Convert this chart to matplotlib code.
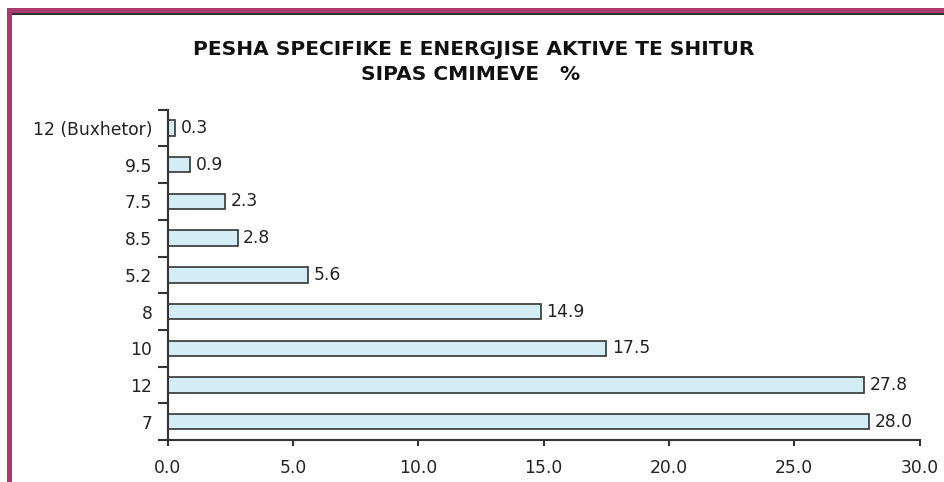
import matplotlib
matplotlib.use("Agg")
import matplotlib.pyplot as plt
from matplotlib.patches import Rectangle

categories = ["7", "12", "10", "8", "5.2", "8.5", "7.5", "9.5", "12 (Buxhetor)"]
values = [28.0, 27.8, 17.5, 14.9, 5.6, 2.8, 2.3, 0.9, 0.3]
xticks = [0, 5, 10, 15, 20, 25, 30]

W, H = 944, 482
fig = plt.figure(figsize=(W / 100, H / 100), dpi=100)
plt.rcParams['font.family'] = ['DejaVu Sans']

# frame around the chart (pink border with a dark inner line on top)
def px_rect(x0, y0, x1, y1, color):
    fig.patches.append(Rectangle((x0 / W, 1 - y1 / H), (x1 - x0) / W, (y1 - y0) / H,
                                 transform=fig.transFigure, color=color, lw=0, zorder=0))

border = "#a83a6e"
px_rect(7, 8, 12, H, border)
px_rect(7, 8, W, 12.7, border)
px_rect(12, 12.7, W, 15.3, "#333333")

ax = fig.add_axes([167.5 / W, 1 - 440 / H, (919.5 - 167.5) / W, (440 - 109.7) / H])
pos = range(len(categories))
bars = ax.barh(pos, values, height=0.42, color="#d3edf4", edgecolor="#333333", linewidth=1.2)

fs = 12.3
for y, v in zip(pos, values):
    ax.text(v + 0.22, y, f"{v:.1f}", va="center", ha="left", fontsize=fs, color="#222222")

ax.set_xlim(0, 30)
ax.set_ylim(-0.5, len(categories) - 0.5)
ax.set_xticks(xticks)
ax.set_xticklabels([f"{t:.1f}" for t in xticks])
ax.set_yticks(list(pos))
ax.set_yticklabels(categories)
ax.set_yticks([p - 0.5 for p in range(len(categories) + 1)], minor=True)

for s in ["top", "right"]:
    ax.spines[s].set_visible(False)
for s in ["left", "bottom"]:
    ax.spines[s].set_color("#333333")
    ax.spines[s].set_linewidth(1.5)

ax.tick_params(axis="y", which="major", length=0, pad=11, labelsize=fs, labelcolor="#222222")
ax.tick_params(axis="y", which="minor", length=7, width=1.5, color="#333333")
ax.tick_params(axis="x", length=4, width=1.5, color="#333333", pad=10, labelsize=fs, labelcolor="#222222")

fig.text(0.502, 1 - 55 / H, "PESHA SPECIFIKE E ENERGJISE AKTIVE TE SHITUR",
         ha="center", va="baseline", fontsize=14.5, fontweight="bold", color="#111111")
fig.text(0.499, 1 - 79.5 / H, "SIPAS CMIMEVE   %",
         ha="center", va="baseline", fontsize=14.5, fontweight="bold", color="#111111")

fig.savefig("out.png", dpi=100)
